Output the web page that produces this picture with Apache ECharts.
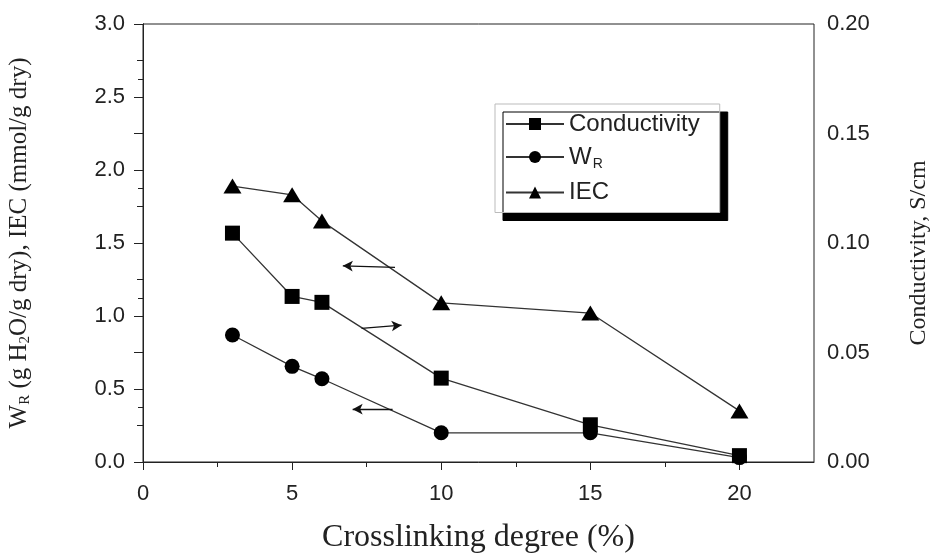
<!DOCTYPE html>
<html>
<head>
<meta charset="utf-8">
<script src="https://cdn.jsdelivr.net/npm/echarts@6/dist/echarts.min.js"></script>
<style>
html,body{margin:0;padding:0;background:#fff;}
#c{width:932px;height:554px;}
</style>
</head>
<body>
<div id="c"></div>
<script>
// ---- data ----
const crosslinking = [3, 5, 6, 10, 15, 20];
const conductivity = [0.1045, 0.0756, 0.0729, 0.0383, 0.0170, 0.0029]; // S/cm (right axis)
const waterUptake = [0.87, 0.655, 0.57, 0.20, 0.20, 0.03];            // W_R (left axis)
const iec = [1.89, 1.83, 1.65, 1.09, 1.02, 0.35];                      // IEC (left axis)
const xMajorTicks = [0, 5, 10, 15, 20];
const xMinorTicks = [2.5, 7.5, 12.5, 17.5];
// annotation arrows [from, to] in data units
const arrowIEC = [[8.45, 1.333], [6.70, 1.344]];
const arrowCond = [[7.33, 0.061], [8.67, 0.0625]];
const arrowWR = [[8.37, 0.362], [7.03, 0.362]];

const pairs = (ys) => crosslinking.map((x, i) => [x, ys[i]]);
const SANS = "'Liberation Sans', Arial, sans-serif";
const SERIF = "'Liberation Serif', 'Times New Roman', serif";
const TXT = '#222';

function arrow(a) {
  return {
    silent: true,
    animation: false,
    symbol: ['none', 'arrow'],
    symbolSize: [8, 10],
    label: { show: false },
    lineStyle: { color: '#111', width: 1.3, type: 'solid' },
    data: [[{ coord: a[0] }, { coord: a[1] }]]
  };
}

const chart = echarts.init(document.getElementById('c'), null, { renderer: 'canvas' });
chart.setOption({
  animation: false,
  backgroundColor: '#fff',
  grid: { left: 143, right: 118, top: 24, bottom: 92, outerBoundsMode: 'none', containLabel: false,
          show: true, borderColor: '#222', borderWidth: 1, backgroundColor: 'transparent' },
  legend: {
    orient: 'vertical',
    left: 495, top: 104,
    data: ['Conductivity', 'W_R', 'IEC'],
    itemWidth: 58, itemHeight: 15, itemGap: 9,
    padding: [8, 20, 8, 10],
    backgroundColor: '#fff',
    borderColor: '#bbb', borderWidth: 1,
    shadowColor: '#000', shadowBlur: 0, shadowOffsetX: 8, shadowOffsetY: 8,
    formatter: (n) => n === 'W_R' ? '{m|W}{s|R}' : '{m|' + n + '}',
    textStyle: {
      color: TXT, fontFamily: SANS, fontSize: 24,
      rich: {
        m: { color: TXT, fontFamily: SANS, fontSize: 24 },
        s: { color: TXT, fontFamily: SANS, fontSize: 14, verticalAlign: 'bottom', padding: [15, 0, 0, 1] }
      }
    }
  },
  xAxis: [{
    type: 'value', min: 0, max: 22.5, interval: 5,
    name: 'Crosslinking degree (%)', nameLocation: 'middle', nameGap: 60,
    nameTextStyle: { fontFamily: SERIF, fontSize: 32, color: TXT },
    axisLine: { lineStyle: { color: '#222', width: 1 } },
    axisTick: { show: true, length: 8, customValues: xMajorTicks, lineStyle: { color: '#222' } },
    axisLabel: { customValues: xMajorTicks, margin: 21, fontFamily: SANS, fontSize: 22, color: TXT },
    splitLine: { show: false }
  }, {
    type: 'value', min: 0, max: 22.5, position: 'bottom',
    axisLine: { show: false },
    axisTick: { show: true, length: 5, customValues: xMinorTicks, lineStyle: { color: '#222' } },
    axisLabel: { show: false },
    splitLine: { show: false }
  }],
  yAxis: [{
    type: 'value', min: 0, max: 3, interval: 0.5, position: 'left',
    name: '{n|W}{s|R}{n| (g H}{s|2}{n|O/g dry), IEC (mmol/g dry)}',
    nameLocation: 'middle', nameGap: 110, nameRotate: 90,
    nameTextStyle: {
      fontFamily: SERIF, fontSize: 25, color: TXT,
      rich: {
        n: { fontFamily: SERIF, fontSize: 25, color: TXT },
        s: { fontFamily: SERIF, fontSize: 15, color: TXT, verticalAlign: 'bottom', padding: [12, 0, 0, 0] }
      }
    },
    axisLine: { show: true, lineStyle: { color: '#222', width: 1 } },
    axisTick: { show: true, length: 9, lineStyle: { color: '#222' } },
    minorTick: { show: true, splitNumber: 2, length: 6, lineStyle: { color: '#222' } },
    axisLabel: { margin: 18, fontFamily: SANS, fontSize: 22, color: TXT, formatter: (v) => v.toFixed(1) },
    splitLine: { show: false }
  }, {
    type: 'value', min: 0, max: 0.2, interval: 0.05, position: 'right',
    name: 'Conductivity, S/cm',
    nameLocation: 'middle', nameGap: 93, nameRotate: 90,
    nameTextStyle: { fontFamily: SERIF, fontSize: 24, color: TXT, padding: [0, 20, 0, 0] },
    axisLine: { show: true, lineStyle: { color: '#222', width: 1 } },
    axisTick: { show: true, inside: true, length: 9, lineStyle: { color: '#222' } },
    minorTick: { show: true, splitNumber: 2, length: 5, lineStyle: { color: '#222' } },
    axisLabel: { margin: 13, fontFamily: SANS, fontSize: 22, color: TXT, formatter: (v) => v.toFixed(2) },
    splitLine: { show: false }
  }],
  series: [{
    name: 'W_R', type: 'line', yAxisIndex: 0, xAxisIndex: 0,
    data: pairs(waterUptake),
    symbol: 'circle', symbolSize: 15,
    itemStyle: { color: '#000' },
    lineStyle: { color: '#333', width: 1.3 },
    markLine: arrow(arrowWR)
  }, {
    name: 'IEC', type: 'line', yAxisIndex: 0, xAxisIndex: 0,
    data: pairs(iec),
    symbol: 'triangle', symbolSize: [18, 15],
    itemStyle: { color: '#000' },
    lineStyle: { color: '#333', width: 1.3 },
    markLine: arrow(arrowIEC)
  }, {
    name: 'Conductivity', type: 'line', yAxisIndex: 1, xAxisIndex: 0,
    data: pairs(conductivity),
    symbol: 'rect', symbolSize: 15,
    itemStyle: { color: '#000' },
    lineStyle: { color: '#333', width: 1.3 },
    markLine: arrow(arrowCond)
  }]
});
</script>
</body>
</html>
